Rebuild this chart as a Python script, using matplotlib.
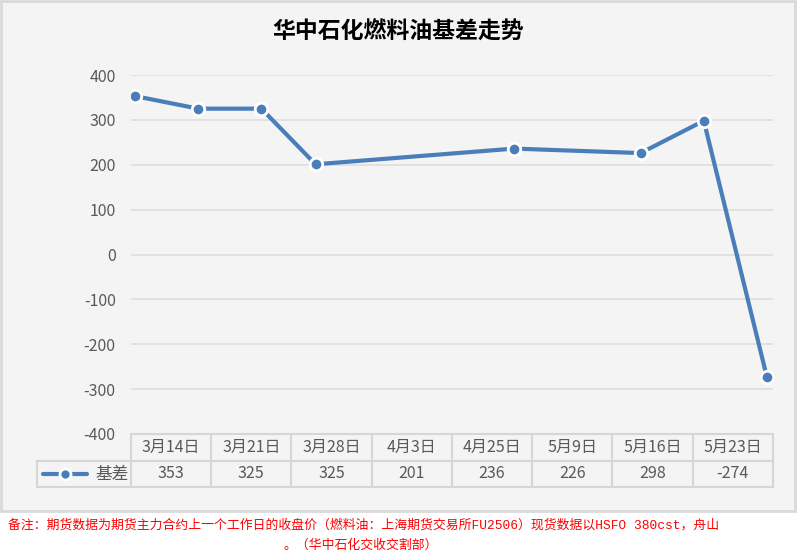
import matplotlib
matplotlib.use("Agg")
import matplotlib.pyplot as plt
import matplotlib.dates as mdates
import numpy as np
import datetime as dt
from matplotlib.patches import Rectangle
from matplotlib.lines import Line2D

plt.rcParams['font.family'] = ['Noto Sans CJK SC', 'DejaVu Sans']

title = "华中石化燃料油基差走势"
categories = ["3月14日", "3月21日", "3月28日", "4月3日", "4月25日", "5月9日", "5月16日", "5月23日"]
dates = [dt.date(2025, 3, 14), dt.date(2025, 3, 21), dt.date(2025, 3, 28), dt.date(2025, 4, 3),
         dt.date(2025, 4, 25), dt.date(2025, 5, 9), dt.date(2025, 5, 16), dt.date(2025, 5, 23)]
values = [353, 325, 325, 201, 236, 226, 298, -274]
series_name = "基差"
yticks = [-400, -300, -200, -100, 0, 100, 200, 300, 400]
note1 = "备注：期货数据为期货主力合约上一个工作日的收盘价（燃料油：上海期货交易所FU2506）现货数据以HSFO 380cst，舟山"
note2 = "。（华中石化交收交割部）"

W, H = 797, 555
fig = plt.figure(figsize=(W / 100, H / 100), dpi=100, facecolor='white')

# background overlay (pixel coordinates)
bg = fig.add_axes([0, 0, 1, 1], zorder=0)
bg.set_xlim(0, W)
bg.set_ylim(H, 0)
bg.axis('off')
bg.add_patch(Rectangle((1, 1), 794, 510, facecolor='#f4f4f4', edgecolor='#d9d9d9', lw=2))

line_color = '#4a7ebb'
text_color = '#595959'
grid_color = '#dedede'

# plot axes
L, R, T, B = 131, 773, 75, 434
ax = fig.add_axes([L / W, 1 - B / H, (R - L) / W, (B - T) / H], zorder=2)
ax.patch.set_alpha(0)
x = mdates.date2num(dates)
ax.plot(x, values, color=line_color, lw=3, marker='o', ms=9, mfc=line_color,
        mec='white', mew=2, zorder=3, solid_capstyle='round')
ppd = (767 - 135) / (x[-1] - x[0])
ax.set_xlim(x[0] - 4 / ppd, x[-1] + 6 / ppd)
ax.set_ylim(-400, 400)
ax.set_yticks(yticks)
ax.set_yticklabels([str(v) for v in yticks], color=text_color, fontsize=11.5)
ax.tick_params(axis='y', length=0, pad=11)
ax.set_xticks([])
for v in yticks[1:]:
    ax.axhline(v, color=grid_color, lw=1.2, zorder=1)
for s in ax.spines.values():
    s.set_visible(False)

# title
fig.text(398 / W, 1 - 32 / H, title, ha='center', va='center', fontsize=16.5,
         fontweight='bold', color='black')

# data table
tc = '#d6d6d6'
tlw = 1.5
colw = (R - L) / len(categories)
y0, y1, y2 = 434, 461, 487
lx = 37
bg2 = fig.add_axes([0, 0, 1, 1], zorder=3)
bg2.set_xlim(0, W)
bg2.set_ylim(H, 0)
bg2.axis('off')
bg2.plot([L, R], [y0, y0], color=tc, lw=tlw)
bg2.plot([lx, R], [y1, y1], color=tc, lw=tlw)
bg2.plot([lx, R], [y2, y2], color=tc, lw=tlw)
bg2.plot([lx, lx], [y1, y2], color=tc, lw=tlw)
for i in range(len(categories) + 1):
    xx = L + i * colw
    bg2.plot([xx, xx], [y0, y2], color=tc, lw=tlw)
for i, (c, v) in enumerate(zip(categories, values)):
    cx = L + (i + 0.5) * colw
    bg2.text(cx, (y0 + y1) / 2, c, ha='center', va='center', fontsize=11.5, color=text_color)
    bg2.text(cx, (y1 + y2) / 2, str(v), ha='center', va='center', fontsize=11.5, color=text_color)
# legend key
ym = (y1 + y2) / 2
bg2.plot([43, 87], [ym, ym], color=line_color, lw=3, solid_capstyle='round')
bg2.plot([65], [ym], marker='o', ms=8, mfc=line_color, mec='white', mew=2)
bg2.text(112, ym, series_name, ha='center', va='center', fontsize=12, color=text_color)

# notes
note_font = ['Liberation Mono', 'Noto Sans CJK SC']
fig.text(8 / W, 1 - 525 / H, note1, ha='left', va='center', fontsize=9.25, color='red',
         family=note_font)
fig.text(283 / W, 1 - 546 / H, note2, ha='left', va='center', fontsize=9.25, color='red',
         family=note_font)

fig.savefig('out.png', dpi=100, facecolor='white')
